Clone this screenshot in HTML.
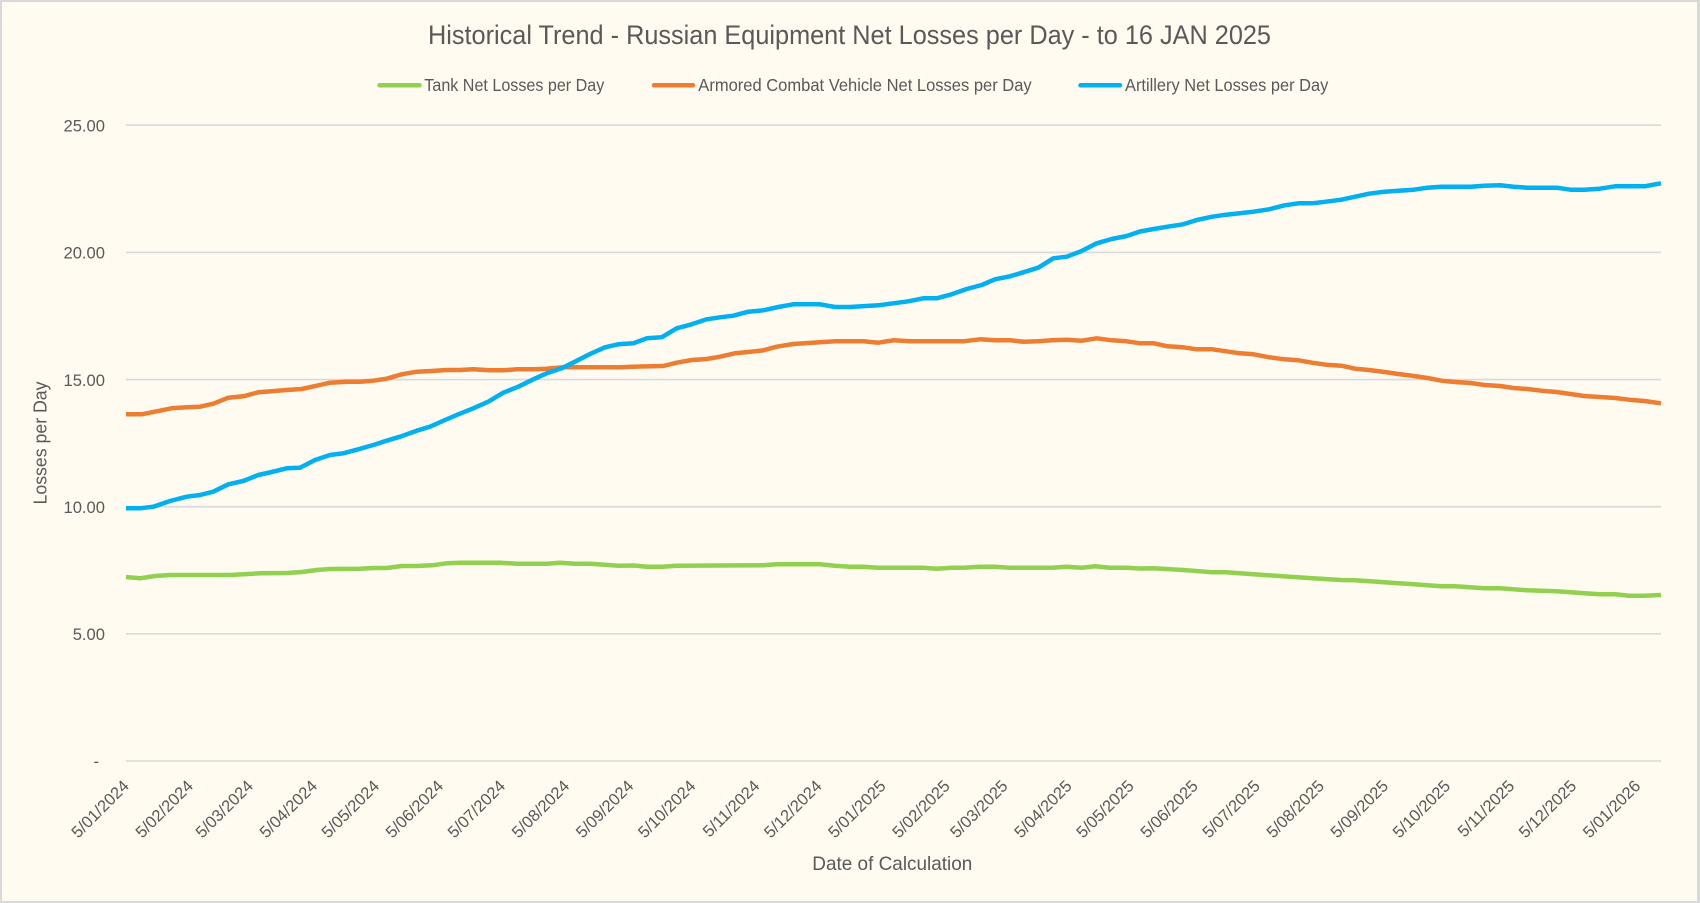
<!DOCTYPE html>
<html>
<head>
<meta charset="utf-8">
<style>
html,body{margin:0;padding:0;background:#FFFBF1;}
svg{display:block;}
text{font-family:"Liberation Sans",sans-serif;fill:#595959;}
</style>
</head>
<body>
<svg width="1700" height="903" viewBox="0 0 1700 903" xmlns="http://www.w3.org/2000/svg">
<rect x="0" y="0" width="1700" height="903" fill="#D9D9D9"/>
<rect x="2" y="2" width="1695" height="899" fill="#FFFBF1"/>

<!-- Title -->
<text x="428" y="44" font-size="27" textLength="843" lengthAdjust="spacingAndGlyphs">Historical Trend - Russian Equipment Net Losses per Day - to 16 JAN 2025</text>

<!-- Legend -->
<g stroke-width="4.5" stroke-linecap="round">
<line x1="379.5" y1="85.3" x2="419.5" y2="85.3" stroke="#92D050"/>
<line x1="654" y1="85.3" x2="693" y2="85.3" stroke="#ED7D31"/>
<line x1="1080.5" y1="85.3" x2="1120" y2="85.3" stroke="#00B0F0"/>
</g>
<text x="424.3" y="91" font-size="17.5" textLength="180" lengthAdjust="spacingAndGlyphs">Tank Net Losses per Day</text>
<text x="698.3" y="91" font-size="17.5" textLength="333.4" lengthAdjust="spacingAndGlyphs">Armored Combat Vehicle Net Losses per Day</text>
<text x="1125" y="91" font-size="17.5" textLength="203.3" lengthAdjust="spacingAndGlyphs">Artillery Net Losses per Day</text>

<!-- Gridlines -->
<g stroke="#D9D9D9" stroke-width="1.6">
<line x1="126" y1="125.2" x2="1661" y2="125.2"/>
<line x1="126" y1="252.4" x2="1661" y2="252.4"/>
<line x1="126" y1="379.6" x2="1661" y2="379.6"/>
<line x1="126" y1="506.7" x2="1661" y2="506.7"/>
<line x1="126" y1="633.8" x2="1661" y2="633.8"/>
<line x1="126" y1="761" x2="1661" y2="761"/>
</g>

<!-- Y tick labels -->
<g font-size="16.6" text-anchor="end">
<text x="105" y="131.4">25.00</text>
<text x="105" y="258.6">20.00</text>
<text x="105" y="385.8">15.00</text>
<text x="105" y="512.9">10.00</text>
<text x="105" y="640">5.00</text>
<text x="99" y="767">-</text>
</g>

<!-- Y axis title -->
<text transform="translate(46.5,443) rotate(-90)" font-size="18" text-anchor="middle" textLength="123" lengthAdjust="spacingAndGlyphs">Losses per Day</text>

<!-- X tick labels -->
<g font-size="16.5" text-anchor="end">
<text transform="translate(130.0,787) rotate(-45)">5/01/2024</text>
<text transform="translate(194.1,787) rotate(-45)">5/02/2024</text>
<text transform="translate(254.1,787) rotate(-45)">5/03/2024</text>
<text transform="translate(318.2,787) rotate(-45)">5/04/2024</text>
<text transform="translate(380.2,787) rotate(-45)">5/05/2024</text>
<text transform="translate(444.3,787) rotate(-45)">5/06/2024</text>
<text transform="translate(506.3,787) rotate(-45)">5/07/2024</text>
<text transform="translate(570.4,787) rotate(-45)">5/08/2024</text>
<text transform="translate(634.5,787) rotate(-45)">5/09/2024</text>
<text transform="translate(696.6,787) rotate(-45)">5/10/2024</text>
<text transform="translate(760.6,787) rotate(-45)">5/11/2024</text>
<text transform="translate(822.7,787) rotate(-45)">5/12/2024</text>
<text transform="translate(886.8,787) rotate(-45)">5/01/2025</text>
<text transform="translate(950.9,787) rotate(-45)">5/02/2025</text>
<text transform="translate(1008.8,787) rotate(-45)">5/03/2025</text>
<text transform="translate(1072.9,787) rotate(-45)">5/04/2025</text>
<text transform="translate(1134.9,787) rotate(-45)">5/05/2025</text>
<text transform="translate(1199.0,787) rotate(-45)">5/06/2025</text>
<text transform="translate(1261.0,787) rotate(-45)">5/07/2025</text>
<text transform="translate(1325.1,787) rotate(-45)">5/08/2025</text>
<text transform="translate(1389.2,787) rotate(-45)">5/09/2025</text>
<text transform="translate(1451.3,787) rotate(-45)">5/10/2025</text>
<text transform="translate(1515.4,787) rotate(-45)">5/11/2025</text>
<text transform="translate(1577.4,787) rotate(-45)">5/12/2025</text>
<text transform="translate(1641.5,787) rotate(-45)">5/01/2026</text>
</g>

<!-- X axis title -->
<text x="812.3" y="870" font-size="19.5" textLength="160" lengthAdjust="spacingAndGlyphs">Date of Calculation</text>

<!-- Series -->
<g fill="none" stroke-width="4.5" stroke-linejoin="round" stroke-linecap="butt">
<polyline stroke="#92D050" points="126,577 140,578.3 155,576 170,575 230,575 260,573.3 286.7,573 301.7,572 316.7,570 330,569 360,568.7 373.3,568 386.7,568 401.7,566 416.7,566 431.7,565.3 446.7,563.3 460,562.7 500,562.7 516.7,563.7 546.7,563.7 560,562.7 575,563.7 590,563.7 605,564.7 618.3,565.7 633.3,565.5 646.7,566.7 661.7,566.7 676.7,565.7 763.3,565.3 776.7,564.3 820,564.3 835,565.7 850,566.7 863.3,566.7 878.3,567.7 923.3,567.7 936.7,568.7 951.7,567.7 963.3,567.7 980,566.7 995,566.7 1010,567.7 1051.7,567.7 1066.7,566.7 1081.7,567.7 1095,566.3 1110,567.7 1126.7,567.7 1140,568.5 1153.8,568.3 1183,570 1212.3,572.3 1226.1,572.3 1253.6,574.3 1282.9,576.3 1312.2,578.3 1341.4,580 1355.2,580.3 1384.5,582.3 1413.8,584.3 1441.3,586.3 1455.1,586.3 1484.4,588.3 1499.9,588.3 1527.4,590.3 1556.7,591.3 1584.2,593.3 1599.7,594.3 1615.2,594.3 1629,595.7 1644.5,595.7 1661,595"/>
<polyline stroke="#ED7D31" points="126,414.3 141.7,414.3 156.7,411.3 171.7,408.3 186.7,407.3 200,406.7 213.3,403.7 228.3,397.7 243.3,396.3 258.3,392.3 271.7,391.3 286.7,390 301.7,389 316.7,385.7 330,382.7 346.7,381.7 360,381.7 373.3,380.7 386.7,378.7 401.7,374.3 416.7,371.7 431.7,371 446.7,370 460,370 473.3,369.3 490,370.3 503.3,370.3 516.7,369.3 533.3,369.3 546.7,368.7 563.3,367.3 620,367.3 640,366.5 663.3,366 676.7,362.7 691.7,360 706.7,359 720,356.7 735,353.3 748.3,352 763.3,350.3 776.7,346.7 793.3,344 820,342.3 835,341.3 863.3,341.3 878.3,342.7 893.3,340.3 910,341.3 963.3,341.3 980,339.3 995,340.3 1010,340.3 1023.3,341.7 1038.3,341.3 1051.7,340.3 1066.7,339.7 1081.7,340.7 1096.7,338.3 1111.7,340.3 1126.7,341.3 1140,343.3 1153.8,343.3 1167.5,346.3 1183,347.3 1196.8,349.3 1212.3,349.3 1226.1,351.3 1239.9,353.3 1253.6,354.3 1269.1,357.3 1284.6,359.3 1298.4,360.3 1312.2,362.7 1326,364.7 1341.4,365.7 1355.2,368.7 1369,370 1384.5,372 1398.3,374 1413.8,376 1427.5,378 1441.3,380.7 1455.1,382 1470.6,383 1484.4,385 1499.9,386 1513.6,388 1527.4,389 1541.2,390.7 1556.7,392 1570.4,394 1584.2,396 1599.7,397 1615.2,398 1629,399.7 1644.5,401 1661,403.3"/>
<polyline stroke="#00B0F0" points="126,508.3 140,508.3 153.3,506.7 170,501 186.7,496.7 200,495 213.3,491.7 228.3,484.3 243.3,481 258.3,475 271.7,472 286.7,468.3 300,467.7 315,460 330,455 343.3,453.3 358.3,449.3 373.3,445 386.7,440.7 400,436.7 416.7,430.7 430,426.7 445,420 458.3,414.3 473.3,408.3 488.3,401.7 503.3,392.7 518.3,386.7 533.3,379.3 546.7,373.3 561.7,368.3 575,361.7 590,354 605,347.3 618.3,344.3 633.3,343.3 646.7,338.3 661.7,337.3 676.7,328.3 691.7,324.3 706.7,319.3 720,317.3 733.3,315.7 748.3,311.7 763.3,310.3 778.3,307 793.3,304.3 820,304.3 835,307 850,307 878.3,305.3 893.3,303.3 908.3,301.3 923.3,298.3 936.7,298.3 951.7,294.3 966.7,289 981.7,285 995,279.3 1010,276.3 1023.3,272.3 1038.3,267.7 1053.3,258.3 1066.7,256.7 1081.7,251 1096.7,243.3 1111.7,239 1126.7,236 1140,231.5 1153.8,229 1167.5,226.7 1183,224.3 1196.8,220 1212.3,216.7 1226.1,214.7 1239.9,213.3 1253.6,211.7 1269.1,209.3 1284.6,205.3 1298.4,203.3 1312.2,203.3 1326,201.7 1341.4,199.7 1355.2,196.7 1369,193.7 1384.5,191.7 1398.3,190.7 1413.8,189.7 1427.5,187.7 1441.3,186.7 1470.6,186.7 1484.4,185.7 1499.9,185.3 1513.6,186.7 1527.4,187.7 1556.7,187.7 1570.4,189.7 1584.2,189.7 1599.7,188.7 1615.2,186.3 1644.5,186.3 1661,183.3"/>
</g>
</svg>
</body>
</html>
